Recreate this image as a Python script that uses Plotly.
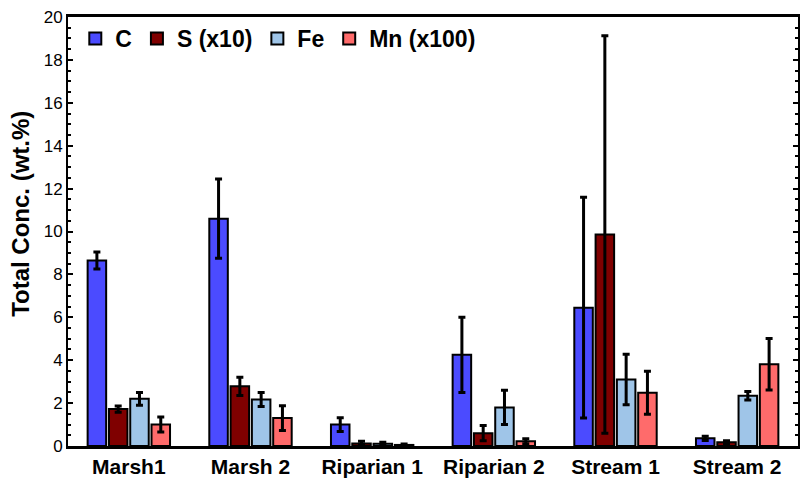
import plotly.graph_objects as go

sites = ["Marsh1", "Marsh 2", "Riparian 1", "Riparian 2", "Stream 1", "Stream 2"]
series_names = ["C", "S (x10)", "Fe", "Mn (x100)"]

c_vals = [8.65, 10.6, 1.0, 4.25, 6.45, 0.36]
c_err = [0.4, 1.85, 0.32, 1.75, 5.15, 0.1]
s_vals = [1.72, 2.78, 0.12, 0.6, 9.86, 0.17]
s_err = [0.15, 0.42, 0.1, 0.35, 9.27, 0.08]
fe_vals = [2.2, 2.17, 0.1, 1.8, 3.1, 2.34]
fe_err = [0.3, 0.33, 0.08, 0.8, 1.18, 0.2]
mn_vals = [1.0, 1.3, 0.05, 0.22, 2.48, 3.81]
mn_err = [0.35, 0.58, 0.04, 0.12, 1.0, 1.2]

colors = ["#4B4BFF", "#7F0000", "#9FC5E8", "#FF6B6B"]
y_ticks = list(range(0, 21, 2))
y_title = "Total Conc. (wt.%)"

font_family = "Liberation Sans, Arial, sans-serif"

fig = go.Figure()
for name, vals, errs, col in zip(series_names,
                                 [c_vals, s_vals, fe_vals, mn_vals],
                                 [c_err, s_err, fe_err, mn_err],
                                 colors):
    fig.add_trace(go.Bar(
        x=sites, y=vals, name=name,
        marker=dict(color=col, line=dict(color="black", width=2)),
        error_y=dict(type="data", array=errs, visible=True,
                     color="black", thickness=3, width=3.5),
    ))

fig.update_layout(
    width=804, height=482,
    margin=dict(l=68, r=4, t=17, b=35),
    paper_bgcolor="white", plot_bgcolor="white",
    barmode="group", bargap=0.30, bargroupgap=0.13,
    font=dict(family=font_family, color="black", size=17),
    legend=dict(
        orientation="h", x=0.01, y=1.0, xanchor="left", yanchor="top",
        font=dict(size=23, family=font_family, weight="bold"),
        bgcolor="rgba(0,0,0,0)", itemwidth=30, tracegroupgap=0,
    ),
    showlegend=True,
    annotations=[dict(
        text=y_title, textangle=-90, showarrow=False,
        xref="paper", yref="paper", x=0, y=0.54,
        xanchor="right", yanchor="middle", xshift=-32,
        font=dict(size=24, family=font_family, weight="bold", color="black"),
    )],
)

fig.update_xaxes(
    showline=True, linecolor="black", linewidth=3, mirror=True,
    ticks="", tickfont=dict(size=21, family=font_family, weight="bold"),
    showgrid=False,
)
fig.update_yaxes(
    range=[0, 20], tickvals=y_ticks,
    showline=True, linecolor="black", linewidth=2, mirror="ticks",
    ticks="inside", ticklen=5, tickwidth=2, tickcolor="black",
    minor=dict(ticks="inside", dtick=0.5, ticklen=3, tickwidth=2, tickcolor="black"),
    showgrid=False, zeroline=False,
    tickfont=dict(size=17, family=font_family),
)

fig.write_html("out.html")
